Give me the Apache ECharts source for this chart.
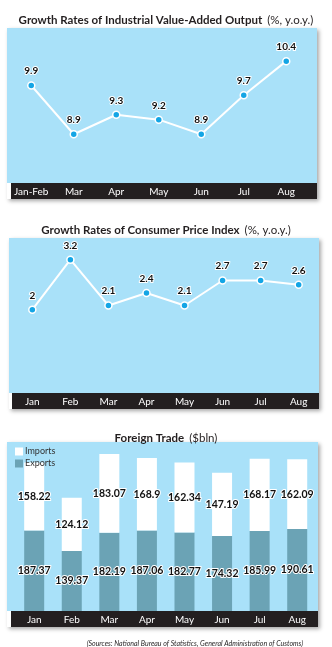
<!DOCTYPE html>
<html><head><meta charset="utf-8">
<script src="https://cdn.jsdelivr.net/npm/echarts@6/dist/echarts.min.js"></script>
<style>html,body{margin:0;padding:0;background:#fff}#c{width:332px;height:647px}</style>
</head><body><div id="c"></div>
<script>
const ivaCats = ['Jan-Feb','Mar','Apr','May','Jun','Jul','Aug'];
const ivaValues = [9.9, 8.9, 9.3, 9.2, 8.9, 9.7, 10.4];
const cpiCats = ['Jan','Feb','Mar','Apr','May','Jun','Jul','Aug'];
const cpiValues = [2, 3.2, 2.1, 2.4, 2.1, 2.7, 2.7, 2.6];
const tradeCats = ['Jan','Feb','Mar','Apr','May','Jun','Jul','Aug'];
const exportsValues = [187.37, 139.37, 182.19, 187.06, 182.77, 174.32, 185.99, 190.61];
const importsValues = [158.22, 124.12, 183.07, 168.9, 162.34, 147.19, 168.17, 162.09];

const BLUE = '#a9e1f9', DARK = '#231f20', TEAL = '#6ba3b5', DOT = '#14a5e5';
const FONT = 'Lato';
const chart = echarts.init(document.getElementById('c'), null, {renderer:'canvas'});

function panel(x, y, w, h, bx, bh) {
  return [
    {type:'rect', shape:{x:x, y:y, width:w, height:h + bh}, style:{fill:BLUE, shadowBlur:4, shadowColor:'rgba(0,0,0,0.35)', shadowOffsetX:2, shadowOffsetY:2}, z:-10},
    {type:'rect', shape:{x:bx, y:y + h, width:x + w - bx, height:bh}, style:{fill:DARK}, z:-9},
    {type:'rect', shape:{x:x, y:y + h, width:bx - x, height:bh}, style:{fill:'#fff'}, z:-9}
  ];
}

const titleRich = {
  b:{fontFamily:FONT, fontWeight:'bold', fontSize:11.5, color:'#231f20'},
  n:{fontFamily:FONT, fontWeight:'normal', fontSize:11.5, color:'#231f20'}
};
const lineLabel = {show:true, position:'top', distance:5, fontFamily:FONT, fontWeight:'bold', fontSize:10, color:'#111', textBorderColor:'#fff', textBorderWidth:2};
const xLab = {color:'#fff', fontFamily:FONT, fontSize:10, margin:4, interval:0};
const barLabel = {show:true, position:'inside', fontFamily:FONT, fontWeight:'bold', fontSize:10.5, color:'#111', textBorderColor:'#fff', textBorderWidth:2};

chart.setOption({
  animation:false,
  title:[
    {text:'{b|Growth Rates of Industrial Value-Added Output} {n|(%, y.o.y.)}', left:'center', top:6, textStyle:{rich:titleRich}},
    {text:'{b|Growth Rates of Consumer Price Index} {n|(%, y.o.y.)}', left:'center', top:216, textStyle:{rich:titleRich}},
    {text:'{b|Foreign Trade} {n|($bln)}', left:'center', top:424, textStyle:{rich:titleRich}},
    {text:'(Sources: National Bureau of Statistics, General Administration of Customs)', right:24, top:635, textStyle:{fontFamily:FONT, fontStyle:'italic', fontSize:7, fontWeight:'normal', color:'#231f20'}}
  ],
  graphic: [].concat(
    panel(7, 28, 310, 155, 11, 16),
    panel(9, 238, 310, 155, 12, 16),
    panel(7, 442, 311, 169, 11, 16)
  ),
  legend:{data:['Imports','Exports'], orient:'vertical', left:10, top:442, itemWidth:8, itemHeight:8, itemGap:3, icon:'rect',
    textStyle:{fontFamily:FONT, fontSize:9, color:'#333', padding:[0,0,0,-3]}},
  grid:[
    {left:10, right:24.5, top:28, bottom:464},
    {left:13.3, right:14.3, top:238, bottom:254},
    {left:15.4, right:16, top:442, bottom:36}
  ],
  xAxis:[
    {type:'category', gridIndex:0, data:ivaCats, axisLine:{show:false}, axisTick:{show:false}, axisLabel:xLab},
    {type:'category', gridIndex:1, data:cpiCats, axisLine:{show:false}, axisTick:{show:false}, axisLabel:xLab},
    {type:'category', gridIndex:2, data:tradeCats, axisLine:{show:false}, axisTick:{show:false}, axisLabel:xLab}
  ],
  yAxis:[
    {type:'value', gridIndex:0, min:7.9, max:11.08, show:false},
    {type:'value', gridIndex:1, min:0, max:3.72, show:false},
    {type:'value', gridIndex:2, min:0, max:393, show:false}
  ],
  series:[
    {type:'line', xAxisIndex:0, yAxisIndex:0, data:ivaValues, symbol:'circle', symbolSize:7,
      lineStyle:{color:'#fff', width:2}, itemStyle:{color:DOT, borderColor:'#fff', borderWidth:1.5}, label:lineLabel},
    {type:'line', xAxisIndex:1, yAxisIndex:1, data:cpiValues, symbol:'circle', symbolSize:7,
      lineStyle:{color:'#fff', width:2}, itemStyle:{color:DOT, borderColor:'#fff', borderWidth:1.5}, label:lineLabel},
    {name:'Exports', type:'bar', stack:'trade', xAxisIndex:2, yAxisIndex:2, data:exportsValues, barWidth:20,
      itemStyle:{color:TEAL}, label:barLabel},
    {name:'Imports', type:'bar', stack:'trade', xAxisIndex:2, yAxisIndex:2, data:importsValues, barWidth:20,
      itemStyle:{color:'#fff'}, label:barLabel}
  ]
});
</script></body></html>
